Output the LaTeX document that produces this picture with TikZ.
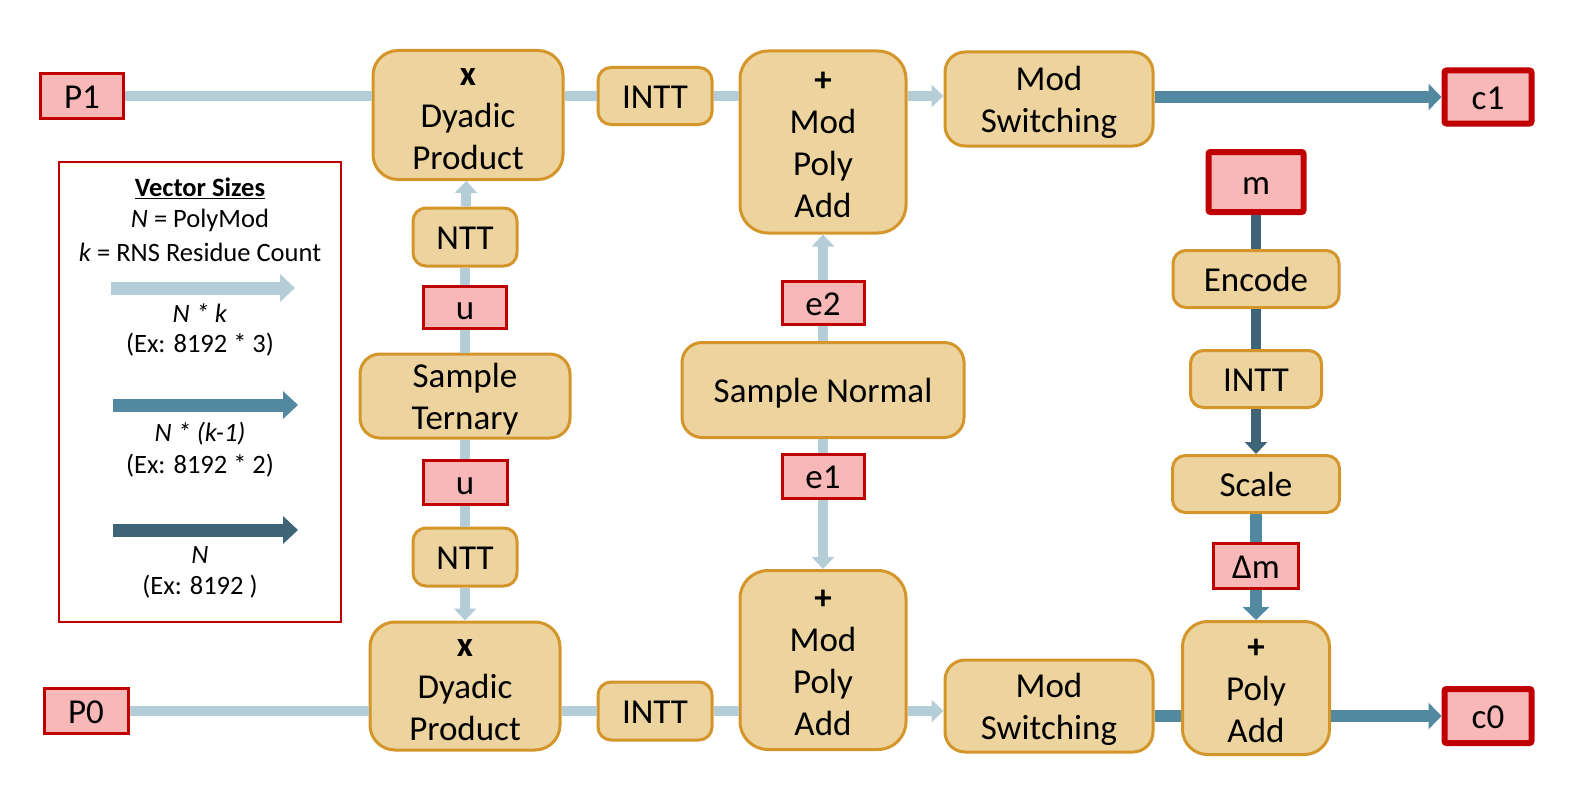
\documentclass[tikz,border=0pt]{standalone}
\usepackage{fontspec}
\setmainfont{Carlito}
\usetikzlibrary{arrows.meta}
\definecolor{opfill}{RGB}{237,211,157}
\definecolor{opline}{RGB}{212,149,42}
\definecolor{varfill}{RGB}{248,184,184}
\definecolor{varline}{RGB}{192,0,0}
\definecolor{flowlight}{RGB}{180,205,215}
\definecolor{flowmid}{RGB}{82,136,160}
\definecolor{flowdark}{RGB}{63,100,120}
\tikzset{
  boxtext/.style={inner sep=0pt,font=\fontsize{35}{42}\selectfont,
    text height=32pt,text depth=8pt},
  twolines/.style={text height=74pt},
  threelines/.style={text height=116pt},
  fourlines/.style={text height=158pt},
  opbox/.style={boxtext,draw=opline,fill=opfill,line width=3pt,rounded corners=13pt,
    align=center},
  varbox/.style={boxtext,draw=varline,fill=varfill,line width=3pt},
  iobox/.style={varbox,line width=6pt,rounded corners=2pt},
  legendtext/.style={inner sep=0pt,font=\fontsize{26.5}{32}\selectfont},
  lightflow/.style={draw=flowlight,line width=10pt},
  midflow/.style={draw=flowmid,line width=12pt},
  darkflow/.style={draw=flowdark,line width=10pt},
  tipsmall/.style={-{Triangle[width=22pt,length=12pt]}},
  tipbig/.style={-{Triangle[width=26pt,length=13pt]}},
  tiplegend/.style={-{Triangle[width=27pt,length=15pt]}}
}
\begin{document}
\begin{tikzpicture}[x=1pt,y=-1pt]
\useasboundingbox (0,0) rectangle (1572,792);
% top row
\node[varbox,minimum width=83pt,minimum height=45pt] (P1) at (82,96) {P1};
\node[opbox,threelines,rounded corners=25pt,minimum width=190pt,minimum height=129pt] (dyad1) at (468,115) {\textbf{x}\\Dyadic\\Product};
\node[opbox,minimum width=114pt,minimum height=57pt] (intt1) at (655,96) {INTT};
\node[opbox,fourlines,rounded corners=28pt,minimum width=166pt,minimum height=182pt] (add1) at (823,142) {\textbf{+}\\Mod\\Poly\\Add};
\node[opbox,twolines,rounded corners=20pt,minimum width=208pt,minimum height=94pt] (modsw1) at (1049,99) {Mod\\Switching};
\node[iobox,minimum width=87pt,minimum height=53pt] (c1) at (1488,97) {c1};
% left column
\node[opbox,minimum width=104pt,minimum height=58pt] (ntt1) at (465,237) {NTT};
\node[varbox,minimum width=83pt,minimum height=42pt] (u1) at (465,307) {u};
\node[opbox,twolines,rounded corners=20pt,minimum width=210pt,minimum height=84pt] (tern) at (465,396) {Sample\\Ternary};
\node[varbox,minimum width=84pt,minimum height=44pt] (u2) at (465,482) {u};
\node[opbox,minimum width=104pt,minimum height=58pt] (ntt2) at (465,557) {NTT};
% bottom row
\node[varbox,minimum width=84pt,minimum height=45pt] (P0) at (86,711) {P0};
\node[opbox,threelines,rounded corners=25pt,minimum width=190pt,minimum height=128pt] (dyad2) at (465,686) {\textbf{x}\\Dyadic\\Product};
\node[opbox,minimum width=114pt,minimum height=58pt] (intt2) at (655,711) {INTT};
\node[opbox,fourlines,rounded corners=28pt,minimum width=166pt,minimum height=179pt] (add2) at (823,660) {\textbf{+}\\Mod\\Poly\\Add};
\node[opbox,twolines,rounded corners=20pt,minimum width=208pt,minimum height=92pt] (modsw2) at (1049,706) {Mod\\Switching};
\node[opbox,threelines,rounded corners=25pt,minimum width=147pt,minimum height=133pt] (polyadd) at (1256,688) {\textbf{+}\\Poly\\Add};
\node[iobox,minimum width=87pt,minimum height=54pt] (c0) at (1488,716) {c0};
% middle column
\node[opbox,rounded corners=20pt,minimum width=282pt,minimum height=95pt] (normal) at (823,390) {Sample Normal};
\node[varbox,minimum width=82pt,minimum height=43pt] (e2) at (823,303) {e2};
\node[varbox,minimum width=82pt,minimum height=44pt] (e1) at (823,476) {e1};
% right column
\node[iobox,minimum width=95pt,minimum height=60pt] (m) at (1256,182) {m};
\node[opbox,minimum width=166pt,minimum height=57pt] (encode) at (1256,279) {Encode};
\node[opbox,minimum width=131pt,minimum height=57pt] (intt3) at (1256,379) {INTT};
\node[opbox,minimum width=167pt,minimum height=57pt] (scale) at (1256,484) {Scale};
\node[varbox,minimum width=85pt,minimum height=45pt] (dm) at (1256,566) {Δm};
% connectors
\draw[lightflow] (P1) -- (P1 -| dyad1.west);
\draw[lightflow] (dyad1.east |- intt1) -- (intt1);
\draw[lightflow] (intt1) -- (intt1 -| add1.west);
\draw[lightflow,tipsmall] (add1.east |- intt1) -- (modsw1.west |- intt1);
\draw[midflow,tipbig] (modsw1.east |- c1) -- (c1.west);
\draw[lightflow] (tern) -- (u1);
\draw[lightflow] (u1) -- (ntt1);
\draw[lightflow,tipsmall] (ntt1) -- (dyad1);
\draw[lightflow] (tern) -- (u2);
\draw[lightflow] (u2) -- (ntt2);
\draw[lightflow,tipsmall] (ntt2) -- (dyad2);
\draw[lightflow] (P0) -- (P0 -| dyad2.west);
\draw[lightflow] (dyad2.east |- intt2) -- (intt2);
\draw[lightflow] (intt2) -- (intt2 -| add2.west);
\draw[lightflow,tipsmall] (add2.east |- intt2) -- (modsw2.west |- intt2);
\draw[midflow] (modsw2.east |- c0) -- (polyadd.west |- c0);
\draw[midflow,tipbig] (polyadd.east |- c0) -- (c0.west);
\draw[lightflow] (normal) -- (e2);
\draw[lightflow,tipsmall] (e2) -- (add1);
\draw[lightflow] (normal) -- (e1);
\draw[lightflow,tipsmall] (e1) -- (add2);
\draw[darkflow] (m) -- (encode);
\draw[darkflow] (encode) -- (intt3);
\draw[darkflow,tipsmall] (intt3) -- (scale);
\draw[midflow] (scale) -- (dm);
\draw[midflow,tipbig] (dm) -- (polyadd);
% legend
\node[draw=varline,line width=2.5pt,minimum width=282pt,minimum height=460pt] (legend) at (200,392) {};
\node[legendtext] (title) at (200,188) {\underline{\textbf{Vector Sizes}}};
\node[legendtext] (defN) at (200,220) {\textit{N} = PolyMod};
\node[legendtext] (defk) at (200,252) {\textit{k} = RNS Residue Count};
\coordinate (la1) at (111,288); \coordinate (lb1) at (295,288);
\coordinate (la2) at (113,405); \coordinate (lb2) at (298,405);
\coordinate (la3) at (113,530); \coordinate (lb3) at (298,530);
\draw[lightflow,line width=13pt,tiplegend] (la1) -- (lb1);
\draw[midflow,line width=13pt,tiplegend] (la2) -- (lb2);
\draw[darkflow,line width=13pt,tiplegend] (la3) -- (lb3);
\node[legendtext] (size1) at (200,313) {\textit{N * k}};
\node[legendtext] (ex1) at (200,345) {(Ex: 8192 * 3)};
\node[legendtext] (size2) at (200,434) {\textit{N * (k-1)}};
\node[legendtext] (ex2) at (200,466) {(Ex: 8192 * 2)};
\node[legendtext] (size3) at (200,555) {\textit{N}};
\node[legendtext] (ex3) at (200,587) {(Ex: 8192 )};
\end{tikzpicture}
\end{document}
